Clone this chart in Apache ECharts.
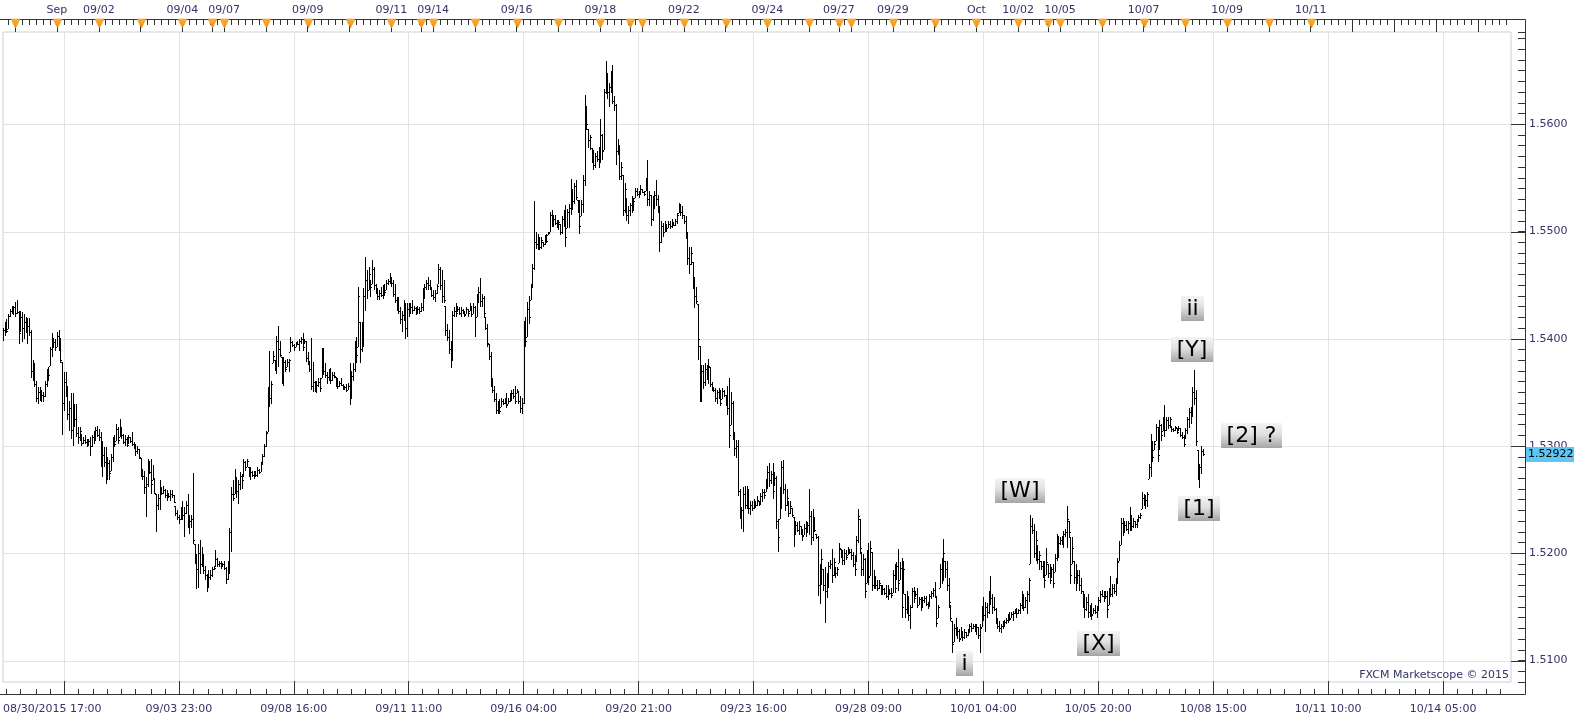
<!DOCTYPE html>
<html><head><meta charset="utf-8">
<script src="https://cdn.jsdelivr.net/npm/echarts@6/dist/echarts.min.js"></script>
<style>html,body{margin:0;padding:0;background:#fff}#c{width:1583px;height:720px}</style>
</head><body><div id="c"></div>
<script>
// ---- hourly OHLC, 08/30/2015 17:00 -> 10/08/2015 10:00 ----
const open = [
1.5400,1.5408,1.5414,1.5409,1.5421,1.5426,1.5425,1.5430,1.5424,1.5425,
1.5406,1.5420,1.5410,1.5416,1.5408,1.5412,1.5406,1.5370,1.5372,1.5358,
1.5345,1.5350,1.5345,1.5348,1.5347,1.5358,1.5369,1.5375,1.5390,1.5395,
1.5397,1.5392,1.5403,1.5395,1.5378,1.5340,1.5360,1.5350,1.5330,1.5335,
1.5315,1.5330,1.5325,1.5312,1.5308,1.5311,1.5303,1.5306,1.5304,1.5302,
1.5305,1.5300,1.5308,1.5311,1.5315,1.5310,1.5308,1.5285,1.5292,1.5285,
1.5270,1.5284,1.5277,1.5290,1.5304,1.5305,1.5316,1.5308,1.5318,1.5310,
1.5304,1.5307,1.5302,1.5308,1.5305,1.5302,1.5299,1.5295,1.5297,1.5289,
1.5275,1.5272,1.5262,1.5265,1.5282,1.5276,1.5268,1.5269,1.5255,1.5245,
1.5252,1.5260,1.5256,1.5259,1.5254,1.5255,1.5253,1.5255,1.5254,1.5244,
1.5238,1.5234,1.5232,1.5240,1.5236,1.5238,1.5245,1.5228,1.5230,1.5232,
1.5209,1.5195,1.5185,1.5200,1.5190,1.5198,1.5184,1.5180,1.5170,1.5178,
1.5180,1.5185,1.5187,1.5195,1.5190,1.5191,1.5188,1.5190,1.5186,1.5176,
1.5185,1.5220,1.5255,1.5255,1.5270,1.5258,1.5265,1.5272,1.5271,1.5285,
1.5280,1.5280,1.5274,1.5276,1.5273,1.5275,1.5273,1.5278,1.5276,1.5283,
1.5291,1.5300,1.5313,1.5350,1.5345,1.5377,1.5380,1.5374,1.5398,1.5390,
1.5383,1.5362,1.5378,1.5374,1.5378,1.5388,1.5397,1.5394,1.5392,1.5396,
1.5395,1.5398,1.5400,1.5395,1.5398,1.5382,1.5378,1.5372,1.5356,1.5360,
1.5352,1.5357,1.5360,1.5363,1.5385,1.5370,1.5366,1.5364,1.5368,1.5362,
1.5366,1.5364,1.5358,1.5356,1.5359,1.5357,1.5354,1.5355,1.5352,1.5356,
1.5345,1.5365,1.5372,1.5394,1.5392,1.5416,1.5390,1.5410,1.5440,1.5455,
1.5445,1.5455,1.5451,1.5465,1.5450,1.5444,1.5440,1.5443,1.5441,1.5446,
1.5445,1.5452,1.5454,1.5458,1.5452,1.5442,1.5436,1.5430,1.5426,1.5418,
1.5422,1.5430,1.5410,1.5428,1.5425,1.5430,1.5427,1.5429,1.5425,1.5428,
1.5426,1.5430,1.5444,1.5448,1.5452,1.5450,1.5447,1.5441,1.5439,1.5443,
1.5451,1.5465,1.5450,1.5440,1.5431,1.5408,1.5402,1.5390,1.5380,1.5422,
1.5426,1.5425,1.5428,1.5424,1.5427,1.5425,1.5423,1.5428,1.5426,1.5430,
1.5423,1.5430,1.5420,1.5438,1.5444,1.5435,1.5438,1.5420,1.5410,1.5395,
1.5384,1.5360,1.5352,1.5344,1.5334,1.5338,1.5336,1.5342,1.5340,1.5343,
1.5339,1.5342,1.5346,1.5349,1.5347,1.5349,1.5350,1.5342,1.5335,1.5340,
1.5410,1.5402,1.5428,1.5436,1.5448,1.5466,1.5490,1.5488,1.5494,1.5486,
1.5490,1.5488,1.5495,1.5497,1.5500,1.5515,1.5508,1.5512,1.5508,1.5506,
1.5507,1.5500,1.5512,1.5516,1.5503,1.5518,1.5522,1.5539,1.5528,1.5542,
1.5529,1.5520,1.5514,1.5526,1.5548,1.5610,1.5596,1.5585,1.5578,1.5570,
1.5562,1.5570,1.5568,1.5575,1.5590,1.5576,1.5630,1.5640,1.5630,1.5635,
1.5645,1.5622,1.5618,1.5575,1.5580,1.5552,1.5553,1.5520,1.5531,1.5515,
1.5520,1.5525,1.5522,1.5531,1.5538,1.5535,1.5536,1.5540,1.5537,1.5538,
1.5548,1.5530,1.5534,1.5512,1.5528,1.5534,1.5530,1.5520,1.5490,1.5505,
1.5500,1.5506,1.5503,1.5507,1.5505,1.5508,1.5506,1.5510,1.5517,1.5524,
1.5518,1.5515,1.5510,1.5498,1.5475,1.5470,1.5472,1.5455,1.5440,1.5432,
1.5393,1.5350,1.5370,1.5360,1.5372,1.5366,1.5374,1.5358,1.5354,1.5352,
1.5345,1.5350,1.5347,1.5344,1.5351,1.5348,1.5341,1.5335,1.5320,1.5340,
1.5310,1.5298,1.5300,1.5258,1.5236,1.5240,1.5255,1.5245,1.5258,1.5242,
1.5245,1.5242,1.5248,1.5245,1.5249,1.5246,1.5253,1.5257,1.5257,1.5266,
1.5276,1.5268,1.5274,1.5263,1.5270,1.5230,1.5232,1.5255,1.5280,1.5260,
1.5245,1.5249,1.5238,1.5242,1.5234,1.5222,1.5226,1.5222,1.5225,1.5220,
1.5217,1.5224,1.5220,1.5226,1.5235,1.5215,1.5230,1.5218,1.5215,1.5170,
1.5180,1.5185,1.5170,1.5165,1.5175,1.5188,1.5190,1.5180,1.5187,1.5182,
1.5191,1.5204,1.5200,1.5194,1.5200,1.5198,1.5204,1.5201,1.5198,1.5190,
1.5192,1.5212,1.5232,1.5201,1.5185,1.5195,1.5172,1.5198,1.5179,1.5201,
1.5170,1.5175,1.5170,1.5168,1.5170,1.5164,1.5167,1.5163,1.5160,1.5166,
1.5163,1.5163,1.5180,1.5175,1.5188,1.5175,1.5186,1.5162,1.5162,1.5148,
1.5159,1.5142,1.5150,1.5165,1.5159,1.5162,1.5152,1.5157,1.5150,1.5156,
1.5158,1.5153,1.5151,1.5160,1.5163,1.5166,1.5159,1.5140,1.5168,1.5185,
1.5178,1.5193,1.5185,1.5170,1.5152,1.5137,1.5117,1.5130,1.5126,1.5128,
1.5121,1.5127,1.5122,1.5127,1.5124,1.5127,1.5132,1.5130,1.5132,1.5129,
1.5131,1.5124,1.5131,1.5148,1.5142,1.5150,1.5145,1.5160,1.5158,1.5150,
1.5148,1.5138,1.5132,1.5130,1.5132,1.5134,1.5136,1.5138,1.5141,1.5140,
1.5143,1.5144,1.5146,1.5144,1.5147,1.5152,1.5160,1.5150,1.5156,1.5162,
1.5190,1.5225,1.5222,1.5200,1.5208,1.5195,1.5193,1.5188,1.5185,1.5180,
1.5190,1.5182,1.5177,1.5185,1.5183,1.5196,1.5212,1.5210,1.5212,1.5214,
1.5218,1.5220,1.5230,1.5215,1.5190,1.5193,1.5178,1.5172,1.5180,1.5170,
1.5165,1.5152,1.5148,1.5155,1.5145,1.5148,1.5143,1.5147,1.5145,1.5148,
1.5156,1.5162,1.5160,1.5163,1.5160,1.5152,1.5165,1.5162,1.5168,1.5165,
1.5175,1.5193,1.5208,1.5228,1.5220,1.5226,1.5223,1.5228,1.5235,1.5225,
1.5230,1.5227,1.5230,1.5234,1.5241,1.5252,1.5248,1.5250,1.5269,1.5280,
1.5300,1.5296,1.5305,1.5318,1.5296,1.5320,1.5314,1.5322,1.5315,1.5324,
1.5320,1.5319,1.5316,1.5315,1.5317,1.5314,1.5317,1.5310,1.5308,1.5307,
1.5315,1.5325,1.5332,1.5328,1.5350,1.5345,1.5296,1.5275,1.5280,1.5295];
const high = [
1.5410,1.5416,1.5418,1.5423,1.5428,1.5431,1.5431,1.5434,1.5436,1.5426,
1.5426,1.5425,1.5423,1.5420,1.5419,1.5419,1.5408,1.5380,1.5377,1.5361,
1.5355,1.5355,1.5352,1.5350,1.5361,1.5372,1.5374,1.5392,1.5405,1.5401,
1.5400,1.5406,1.5408,1.5401,1.5378,1.5369,1.5369,1.5356,1.5342,1.5349,
1.5349,1.5339,1.5339,1.5318,1.5318,1.5311,1.5308,1.5310,1.5307,1.5307,
1.5308,1.5310,1.5314,1.5318,1.5319,1.5316,1.5313,1.5305,1.5299,1.5299,
1.5290,1.5287,1.5293,1.5308,1.5310,1.5321,1.5318,1.5325,1.5318,1.5311,
1.5310,1.5308,1.5310,1.5308,1.5313,1.5304,1.5302,1.5300,1.5297,1.5289,
1.5279,1.5277,1.5271,1.5288,1.5286,1.5288,1.5282,1.5269,1.5255,1.5255,
1.5268,1.5262,1.5263,1.5260,1.5259,1.5255,1.5259,1.5259,1.5254,1.5244,
1.5240,1.5236,1.5243,1.5249,1.5243,1.5249,1.5255,1.5236,1.5236,1.5275,
1.5209,1.5199,1.5209,1.5212,1.5206,1.5199,1.5188,1.5181,1.5184,1.5184,
1.5187,1.5188,1.5203,1.5196,1.5193,1.5193,1.5191,1.5193,1.5187,1.5193,
1.5224,1.5262,1.5268,1.5279,1.5271,1.5268,1.5276,1.5274,1.5288,1.5286,
1.5288,1.5280,1.5280,1.5277,1.5277,1.5277,1.5280,1.5279,1.5285,1.5293,
1.5302,1.5314,1.5355,1.5389,1.5361,1.5389,1.5380,1.5403,1.5412,1.5398,
1.5383,1.5383,1.5380,1.5381,1.5381,1.5402,1.5398,1.5395,1.5397,1.5398,
1.5400,1.5402,1.5405,1.5400,1.5398,1.5388,1.5378,1.5401,1.5378,1.5361,
1.5361,1.5363,1.5363,1.5391,1.5391,1.5377,1.5369,1.5372,1.5373,1.5369,
1.5369,1.5364,1.5363,1.5361,1.5363,1.5358,1.5356,1.5358,1.5359,1.5377,
1.5370,1.5377,1.5398,1.5402,1.5448,1.5416,1.5416,1.5447,1.5476,1.5464,
1.5467,1.5455,1.5473,1.5467,1.5451,1.5447,1.5445,1.5448,1.5450,1.5451,
1.5455,1.5456,1.5461,1.5458,1.5455,1.5451,1.5439,1.5439,1.5430,1.5426,
1.5436,1.5433,1.5433,1.5433,1.5433,1.5436,1.5431,1.5430,1.5431,1.5430,
1.5433,1.5447,1.5451,1.5455,1.5458,1.5455,1.5448,1.5445,1.5445,1.5451,
1.5470,1.5467,1.5464,1.5455,1.5431,1.5414,1.5408,1.5398,1.5426,1.5430,
1.5433,1.5431,1.5430,1.5430,1.5428,1.5426,1.5430,1.5428,1.5433,1.5430,
1.5433,1.5431,1.5442,1.5448,1.5457,1.5442,1.5440,1.5420,1.5414,1.5395,
1.5388,1.5363,1.5356,1.5349,1.5342,1.5344,1.5345,1.5344,1.5345,1.5349,
1.5345,1.5349,1.5352,1.5353,1.5356,1.5353,1.5350,1.5347,1.5345,1.5417,
1.5420,1.5434,1.5440,1.5451,1.5470,1.5528,1.5500,1.5498,1.5495,1.5495,
1.5490,1.5497,1.5498,1.5500,1.5518,1.5520,1.5515,1.5515,1.5511,1.5511,
1.5507,1.5514,1.5520,1.5525,1.5521,1.5526,1.5549,1.5539,1.5545,1.5548,
1.5529,1.5529,1.5529,1.5553,1.5627,1.5617,1.5596,1.5590,1.5578,1.5576,
1.5573,1.5575,1.5579,1.5605,1.5591,1.5633,1.5659,1.5648,1.5638,1.5650,
1.5655,1.5626,1.5619,1.5586,1.5581,1.5565,1.5553,1.5545,1.5531,1.5524,
1.5527,1.5533,1.5531,1.5541,1.5541,1.5538,1.5543,1.5540,1.5538,1.5550,
1.5567,1.5538,1.5534,1.5533,1.5538,1.5548,1.5534,1.5524,1.5510,1.5508,
1.5510,1.5507,1.5510,1.5510,1.5512,1.5508,1.5512,1.5517,1.5527,1.5526,
1.5524,1.5515,1.5514,1.5500,1.5486,1.5486,1.5472,1.5458,1.5448,1.5432,
1.5393,1.5376,1.5376,1.5377,1.5376,1.5381,1.5374,1.5360,1.5355,1.5354,
1.5352,1.5354,1.5352,1.5354,1.5352,1.5348,1.5356,1.5363,1.5350,1.5342,
1.5313,1.5306,1.5306,1.5260,1.5243,1.5262,1.5263,1.5263,1.5260,1.5249,
1.5249,1.5251,1.5249,1.5253,1.5249,1.5256,1.5260,1.5260,1.5269,1.5281,
1.5284,1.5277,1.5284,1.5276,1.5272,1.5232,1.5262,1.5286,1.5287,1.5265,
1.5260,1.5249,1.5249,1.5242,1.5234,1.5230,1.5229,1.5230,1.5225,1.5223,
1.5227,1.5230,1.5229,1.5260,1.5239,1.5241,1.5234,1.5218,1.5216,1.5190,
1.5204,1.5185,1.5187,1.5182,1.5192,1.5194,1.5204,1.5196,1.5187,1.5187,
1.5210,1.5204,1.5203,1.5204,1.5203,1.5206,1.5204,1.5204,1.5201,1.5198,
1.5216,1.5241,1.5232,1.5201,1.5199,1.5196,1.5203,1.5210,1.5211,1.5201,
1.5184,1.5179,1.5175,1.5175,1.5170,1.5170,1.5168,1.5170,1.5170,1.5167,
1.5168,1.5184,1.5190,1.5192,1.5204,1.5192,1.5196,1.5193,1.5162,1.5165,
1.5159,1.5152,1.5168,1.5169,1.5165,1.5168,1.5159,1.5159,1.5159,1.5160,
1.5160,1.5155,1.5162,1.5165,1.5168,1.5173,1.5159,1.5152,1.5190,1.5196,
1.5213,1.5193,1.5193,1.5177,1.5152,1.5137,1.5134,1.5140,1.5131,1.5129,
1.5131,1.5127,1.5129,1.5127,1.5129,1.5134,1.5135,1.5134,1.5134,1.5134,
1.5131,1.5134,1.5151,1.5159,1.5155,1.5154,1.5165,1.5179,1.5162,1.5159,
1.5149,1.5140,1.5137,1.5134,1.5137,1.5138,1.5140,1.5143,1.5145,1.5145,
1.5146,1.5148,1.5149,1.5148,1.5154,1.5165,1.5162,1.5159,1.5165,1.5177,
1.5236,1.5233,1.5227,1.5221,1.5208,1.5202,1.5193,1.5193,1.5193,1.5205,
1.5190,1.5190,1.5187,1.5190,1.5199,1.5218,1.5216,1.5215,1.5216,1.5221,
1.5223,1.5244,1.5230,1.5215,1.5215,1.5193,1.5190,1.5184,1.5184,1.5177,
1.5165,1.5162,1.5159,1.5162,1.5152,1.5154,1.5149,1.5152,1.5151,1.5159,
1.5165,1.5166,1.5165,1.5165,1.5165,1.5168,1.5179,1.5171,1.5171,1.5177,
1.5196,1.5211,1.5233,1.5233,1.5230,1.5230,1.5230,1.5243,1.5236,1.5233,
1.5230,1.5232,1.5236,1.5238,1.5257,1.5255,1.5254,1.5257,1.5283,1.5311,
1.5305,1.5305,1.5321,1.5318,1.5324,1.5321,1.5327,1.5338,1.5327,1.5327,
1.5327,1.5319,1.5317,1.5319,1.5317,1.5319,1.5317,1.5313,1.5310,1.5317,
1.5327,1.5335,1.5336,1.5355,1.5371,1.5352,1.5296,1.5283,1.5300,1.5297];
const low = [
1.5398,1.5403,1.5405,1.5409,1.5420,1.5423,1.5422,1.5420,1.5423,1.5395,
1.5406,1.5397,1.5400,1.5405,1.5395,1.5403,1.5363,1.5361,1.5355,1.5341,
1.5339,1.5342,1.5341,1.5341,1.5346,1.5355,1.5361,1.5375,1.5383,1.5391,
1.5389,1.5392,1.5389,1.5377,1.5310,1.5333,1.5346,1.5324,1.5314,1.5307,
1.5300,1.5318,1.5308,1.5302,1.5305,1.5300,1.5302,1.5302,1.5299,1.5300,
1.5291,1.5299,1.5302,1.5305,1.5308,1.5305,1.5280,1.5271,1.5280,1.5265,
1.5268,1.5268,1.5277,1.5285,1.5299,1.5305,1.5302,1.5308,1.5307,1.5302,
1.5300,1.5299,1.5302,1.5303,1.5300,1.5297,1.5291,1.5293,1.5288,1.5271,
1.5268,1.5255,1.5234,1.5262,1.5274,1.5255,1.5268,1.5255,1.5220,1.5240,
1.5240,1.5254,1.5255,1.5252,1.5249,1.5252,1.5249,1.5252,1.5247,1.5235,
1.5231,1.5227,1.5231,1.5231,1.5215,1.5237,1.5224,1.5218,1.5224,1.5209,
1.5190,1.5167,1.5168,1.5181,1.5187,1.5181,1.5175,1.5164,1.5168,1.5175,
1.5178,1.5184,1.5187,1.5187,1.5187,1.5185,1.5187,1.5184,1.5171,1.5175,
1.5181,1.5201,1.5249,1.5255,1.5252,1.5246,1.5259,1.5260,1.5271,1.5277,
1.5280,1.5271,1.5268,1.5271,1.5269,1.5271,1.5271,1.5274,1.5276,1.5282,
1.5290,1.5299,1.5313,1.5336,1.5339,1.5377,1.5370,1.5367,1.5374,1.5383,
1.5358,1.5356,1.5369,1.5374,1.5369,1.5388,1.5392,1.5389,1.5392,1.5394,
1.5389,1.5395,1.5389,1.5395,1.5378,1.5376,1.5369,1.5352,1.5350,1.5350,
1.5349,1.5355,1.5350,1.5363,1.5366,1.5363,1.5358,1.5361,1.5358,1.5361,
1.5363,1.5355,1.5353,1.5355,1.5356,1.5352,1.5352,1.5350,1.5352,1.5338,
1.5344,1.5361,1.5369,1.5377,1.5392,1.5377,1.5388,1.5392,1.5426,1.5437,
1.5445,1.5439,1.5451,1.5445,1.5442,1.5436,1.5436,1.5439,1.5437,1.5440,
1.5445,1.5450,1.5451,1.5448,1.5439,1.5433,1.5426,1.5423,1.5414,1.5406,
1.5417,1.5400,1.5402,1.5420,1.5423,1.5423,1.5426,1.5422,1.5423,1.5423,
1.5425,1.5426,1.5437,1.5445,1.5445,1.5445,1.5439,1.5436,1.5434,1.5442,
1.5451,1.5445,1.5433,1.5433,1.5403,1.5398,1.5386,1.5373,1.5380,1.5420,
1.5420,1.5425,1.5422,1.5420,1.5423,1.5420,1.5423,1.5420,1.5426,1.5420,
1.5423,1.5402,1.5420,1.5433,1.5430,1.5430,1.5420,1.5408,1.5392,1.5380,
1.5355,1.5349,1.5341,1.5330,1.5330,1.5330,1.5336,1.5338,1.5339,1.5335,
1.5339,1.5341,1.5342,1.5344,1.5339,1.5349,1.5339,1.5331,1.5330,1.5339,
1.5392,1.5402,1.5414,1.5436,1.5447,1.5464,1.5484,1.5483,1.5483,1.5484,
1.5486,1.5487,1.5489,1.5497,1.5500,1.5504,1.5504,1.5506,1.5503,1.5501,
1.5497,1.5498,1.5504,1.5486,1.5503,1.5503,1.5515,1.5520,1.5526,1.5529,
1.5517,1.5498,1.5514,1.5517,1.5542,1.5595,1.5578,1.5576,1.5564,1.5557,
1.5559,1.5565,1.5559,1.5564,1.5567,1.5576,1.5628,1.5624,1.5616,1.5629,
1.5619,1.5612,1.5562,1.5571,1.5548,1.5548,1.5514,1.5517,1.5510,1.5507,
1.5514,1.5517,1.5519,1.5531,1.5533,1.5531,1.5534,1.5536,1.5533,1.5538,
1.5524,1.5524,1.5505,1.5510,1.5521,1.5524,1.5517,1.5481,1.5489,1.5495,
1.5500,1.5500,1.5503,1.5502,1.5503,1.5505,1.5505,1.5507,1.5517,1.5514,
1.5512,1.5507,1.5493,1.5469,1.5460,1.5469,1.5446,1.5429,1.5432,1.5380,
1.5341,1.5341,1.5353,1.5356,1.5362,1.5358,1.5355,1.5351,1.5350,1.5341,
1.5339,1.5344,1.5337,1.5344,1.5346,1.5337,1.5329,1.5298,1.5320,1.5306,
1.5291,1.5289,1.5253,1.5232,1.5223,1.5220,1.5241,1.5241,1.5237,1.5236,
1.5239,1.5241,1.5242,1.5244,1.5244,1.5246,1.5248,1.5251,1.5257,1.5260,
1.5262,1.5265,1.5251,1.5263,1.5223,1.5201,1.5232,1.5241,1.5255,1.5239,
1.5244,1.5234,1.5237,1.5234,1.5206,1.5217,1.5220,1.5217,1.5217,1.5211,
1.5217,1.5215,1.5220,1.5217,1.5208,1.5211,1.5220,1.5213,1.5160,1.5153,
1.5170,1.5165,1.5135,1.5158,1.5168,1.5185,1.5172,1.5179,1.5177,1.5179,
1.5191,1.5196,1.5189,1.5189,1.5194,1.5198,1.5199,1.5194,1.5187,1.5179,
1.5192,1.5210,1.5199,1.5179,1.5179,1.5158,1.5172,1.5170,1.5179,1.5165,
1.5167,1.5167,1.5165,1.5167,1.5161,1.5161,1.5161,1.5158,1.5156,1.5161,
1.5158,1.5163,1.5163,1.5175,1.5165,1.5175,1.5140,1.5162,1.5140,1.5143,
1.5137,1.5129,1.5149,1.5154,1.5159,1.5149,1.5152,1.5146,1.5149,1.5154,
1.5151,1.5148,1.5151,1.5157,1.5159,1.5159,1.5131,1.5140,1.5168,1.5171,
1.5174,1.5177,1.5165,1.5149,1.5137,1.5107,1.5117,1.5123,1.5120,1.5117,
1.5121,1.5118,1.5120,1.5121,1.5123,1.5126,1.5127,1.5129,1.5127,1.5124,
1.5120,1.5107,1.5131,1.5137,1.5127,1.5140,1.5143,1.5152,1.5143,1.5146,
1.5134,1.5129,1.5127,1.5126,1.5129,1.5131,1.5134,1.5135,1.5137,1.5140,
1.5137,1.5143,1.5140,1.5143,1.5143,1.5148,1.5146,1.5149,1.5143,1.5155,
1.5190,1.5218,1.5196,1.5193,1.5190,1.5184,1.5184,1.5177,1.5168,1.5180,
1.5177,1.5171,1.5177,1.5168,1.5183,1.5193,1.5196,1.5208,1.5208,1.5205,
1.5215,1.5205,1.5215,1.5171,1.5190,1.5171,1.5165,1.5171,1.5165,1.5162,
1.5149,1.5140,1.5146,1.5140,1.5141,1.5138,1.5143,1.5143,1.5140,1.5146,
1.5154,1.5159,1.5155,1.5157,1.5140,1.5152,1.5159,1.5159,1.5162,1.5160,
1.5171,1.5193,1.5208,1.5216,1.5219,1.5221,1.5218,1.5221,1.5221,1.5224,
1.5224,1.5224,1.5229,1.5232,1.5241,1.5244,1.5241,1.5243,1.5269,1.5271,
1.5285,1.5296,1.5305,1.5285,1.5296,1.5305,1.5314,1.5308,1.5314,1.5316,
1.5317,1.5313,1.5313,1.5314,1.5311,1.5314,1.5308,1.5307,1.5299,1.5307,
1.5311,1.5317,1.5321,1.5327,1.5338,1.5300,1.5268,1.5261,1.5274,1.5291];
const close = [
1.5408,1.5414,1.5407,1.5421,1.5426,1.5425,1.5430,1.5424,1.5425,1.5405,
1.5420,1.5410,1.5416,1.5408,1.5412,1.5406,1.5370,1.5372,1.5358,1.5345,
1.5350,1.5345,1.5348,1.5347,1.5358,1.5369,1.5366,1.5390,1.5395,1.5397,
1.5392,1.5403,1.5395,1.5380,1.5340,1.5360,1.5350,1.5330,1.5335,1.5315,
1.5330,1.5325,1.5312,1.5308,1.5314,1.5303,1.5306,1.5304,1.5302,1.5305,
1.5300,1.5308,1.5311,1.5315,1.5310,1.5308,1.5285,1.5292,1.5285,1.5270,
1.5284,1.5275,1.5290,1.5304,1.5302,1.5316,1.5306,1.5318,1.5310,1.5304,
1.5307,1.5301,1.5308,1.5305,1.5302,1.5299,1.5295,1.5297,1.5290,1.5275,
1.5272,1.5262,1.5265,1.5282,1.5276,1.5265,1.5270,1.5256,1.5245,1.5252,
1.5260,1.5256,1.5259,1.5254,1.5256,1.5253,1.5255,1.5254,1.5248,1.5238,
1.5234,1.5232,1.5240,1.5236,1.5238,1.5245,1.5228,1.5230,1.5232,1.5212,
1.5195,1.5185,1.5200,1.5190,1.5198,1.5184,1.5180,1.5170,1.5178,1.5180,
1.5185,1.5186,1.5195,1.5190,1.5191,1.5188,1.5190,1.5186,1.5176,1.5185,
1.5220,1.5255,1.5252,1.5270,1.5258,1.5265,1.5272,1.5268,1.5285,1.5280,
1.5286,1.5274,1.5276,1.5273,1.5275,1.5273,1.5278,1.5276,1.5283,1.5291,
1.5300,1.5312,1.5350,1.5345,1.5358,1.5384,1.5374,1.5398,1.5390,1.5385,
1.5362,1.5378,1.5372,1.5378,1.5380,1.5397,1.5394,1.5392,1.5396,1.5395,
1.5398,1.5400,1.5392,1.5398,1.5382,1.5379,1.5372,1.5356,1.5360,1.5352,
1.5357,1.5360,1.5354,1.5385,1.5370,1.5366,1.5364,1.5368,1.5362,1.5366,
1.5365,1.5358,1.5356,1.5359,1.5357,1.5354,1.5355,1.5352,1.5356,1.5345,
1.5365,1.5372,1.5394,1.5385,1.5440,1.5390,1.5410,1.5440,1.5455,1.5445,
1.5460,1.5448,1.5465,1.5450,1.5444,1.5440,1.5443,1.5441,1.5446,1.5444,
1.5452,1.5454,1.5458,1.5452,1.5442,1.5436,1.5430,1.5426,1.5418,1.5422,
1.5430,1.5410,1.5428,1.5425,1.5430,1.5427,1.5429,1.5425,1.5428,1.5426,
1.5430,1.5444,1.5448,1.5452,1.5450,1.5447,1.5441,1.5439,1.5443,1.5449,
1.5465,1.5450,1.5440,1.5436,1.5408,1.5402,1.5390,1.5380,1.5422,1.5426,
1.5424,1.5428,1.5424,1.5427,1.5425,1.5422,1.5428,1.5424,1.5431,1.5423,
1.5430,1.5420,1.5438,1.5444,1.5435,1.5438,1.5424,1.5410,1.5396,1.5384,
1.5360,1.5352,1.5344,1.5334,1.5338,1.5333,1.5342,1.5340,1.5343,1.5338,
1.5342,1.5346,1.5349,1.5347,1.5342,1.5351,1.5342,1.5335,1.5340,1.5410,
1.5398,1.5428,1.5420,1.5448,1.5466,1.5490,1.5488,1.5494,1.5486,1.5492,
1.5488,1.5495,1.5491,1.5499,1.5515,1.5508,1.5512,1.5508,1.5506,1.5509,
1.5500,1.5512,1.5516,1.5495,1.5518,1.5522,1.5540,1.5528,1.5542,1.5532,
1.5520,1.5505,1.5526,1.5548,1.5610,1.5600,1.5585,1.5588,1.5570,1.5562,
1.5570,1.5568,1.5575,1.5590,1.5575,1.5630,1.5640,1.5630,1.5635,1.5645,
1.5622,1.5618,1.5575,1.5580,1.5552,1.5560,1.5520,1.5540,1.5515,1.5520,
1.5525,1.5522,1.5528,1.5538,1.5535,1.5536,1.5540,1.5537,1.5535,1.5548,
1.5530,1.5534,1.5512,1.5528,1.5534,1.5530,1.5520,1.5490,1.5505,1.5500,
1.5506,1.5503,1.5507,1.5505,1.5509,1.5506,1.5510,1.5515,1.5524,1.5518,
1.5515,1.5510,1.5498,1.5475,1.5470,1.5480,1.5455,1.5440,1.5435,1.5400,
1.5350,1.5370,1.5360,1.5372,1.5366,1.5375,1.5358,1.5354,1.5352,1.5345,
1.5350,1.5347,1.5340,1.5351,1.5348,1.5341,1.5335,1.5310,1.5340,1.5310,
1.5298,1.5300,1.5258,1.5236,1.5240,1.5255,1.5245,1.5258,1.5242,1.5245,
1.5242,1.5248,1.5245,1.5250,1.5246,1.5253,1.5257,1.5254,1.5266,1.5276,
1.5268,1.5274,1.5258,1.5270,1.5230,1.5215,1.5255,1.5280,1.5260,1.5245,
1.5252,1.5238,1.5244,1.5236,1.5222,1.5226,1.5222,1.5225,1.5220,1.5216,
1.5224,1.5220,1.5226,1.5235,1.5215,1.5230,1.5222,1.5215,1.5170,1.5180,
1.5195,1.5170,1.5165,1.5175,1.5188,1.5190,1.5180,1.5192,1.5182,1.5185,
1.5205,1.5200,1.5194,1.5200,1.5197,1.5204,1.5201,1.5198,1.5190,1.5185,
1.5212,1.5235,1.5205,1.5185,1.5195,1.5165,1.5198,1.5178,1.5205,1.5170,
1.5175,1.5170,1.5168,1.5172,1.5164,1.5167,1.5163,1.5160,1.5166,1.5163,
1.5161,1.5180,1.5168,1.5188,1.5172,1.5186,1.5150,1.5185,1.5148,1.5160,
1.5142,1.5150,1.5165,1.5158,1.5162,1.5152,1.5157,1.5150,1.5156,1.5158,
1.5153,1.5151,1.5160,1.5163,1.5166,1.5160,1.5135,1.5150,1.5185,1.5178,
1.5200,1.5185,1.5170,1.5155,1.5140,1.5115,1.5130,1.5126,1.5128,1.5120,
1.5128,1.5122,1.5127,1.5124,1.5127,1.5132,1.5130,1.5132,1.5129,1.5131,
1.5124,1.5130,1.5148,1.5142,1.5150,1.5145,1.5160,1.5158,1.5150,1.5148,
1.5138,1.5132,1.5130,1.5132,1.5134,1.5136,1.5138,1.5141,1.5139,1.5143,
1.5144,1.5146,1.5144,1.5147,1.5152,1.5160,1.5150,1.5156,1.5162,1.5175,
1.5225,1.5222,1.5200,1.5212,1.5195,1.5198,1.5188,1.5185,1.5175,1.5192,
1.5182,1.5175,1.5185,1.5172,1.5196,1.5212,1.5210,1.5212,1.5214,1.5218,
1.5220,1.5232,1.5220,1.5180,1.5205,1.5178,1.5172,1.5180,1.5170,1.5165,
1.5152,1.5148,1.5155,1.5145,1.5148,1.5142,1.5147,1.5145,1.5148,1.5156,
1.5162,1.5160,1.5163,1.5160,1.5148,1.5165,1.5162,1.5168,1.5165,1.5175,
1.5192,1.5208,1.5228,1.5220,1.5226,1.5223,1.5228,1.5235,1.5225,1.5230,
1.5227,1.5230,1.5234,1.5236,1.5252,1.5248,1.5250,1.5255,1.5280,1.5300,
1.5290,1.5302,1.5318,1.5292,1.5320,1.5310,1.5322,1.5315,1.5324,1.5320,
1.5325,1.5316,1.5315,1.5318,1.5313,1.5317,1.5310,1.5308,1.5302,1.5315,
1.5325,1.5332,1.5328,1.5350,1.5345,1.5305,1.5275,1.5280,1.5295,1.52922];

// ---- axes / ticks ----
const SLOT_COUNT = 867;                 // hourly slots across the axis (incl. empty future)
const bottomLabelTexts = ['08/30/2015 17:00','09/03 23:00','09/08 16:00','09/11 11:00','09/16 04:00','09/20 21:00','09/23 16:00','09/28 09:00','10/01 04:00','10/05 20:00','10/08 15:00','10/11 10:00','10/14 05:00'];
const bottomLabelSlots = [0,101,167,233,299,365,431,497,563,629,695,761,827];
const topLabelTexts = ['Sep','09/02','09/04','09/07','09/09','09/11','09/14','09/16','09/18','09/22','09/24','09/27','09/29','Oct','10/02','10/05','10/07','10/09','10/11'];
const topLabelSlots = [31,55,103,127,175,223,247,295,343,391,439,480,511,559,583,607,655,703,751];
const dayStartSlots = [7,31,55,79,103,120,127,151,175,199,223,240,247,271,295,319,343,360,367,391,415,439,463,480,487,511,535,559,583,600,607,631,655,679,703,727,751];
const futureDaySlots = [775,799,823,847];
const priceTicks = [1.51,1.52,1.53,1.54,1.55,1.56];
const waveLabels = ['ii','[Y]','[2] ?','[1]','[W]','[X]','i'];
const waveSlots  = [683,683,717,687,584,629,552];
const wavePrices = [1.5428,1.5390,1.5310,1.5242,1.5259,1.5116,1.5097];

const FONT = '"DejaVu Sans", Verdana, sans-serif';
const TXT = '#333366';
const AX = '#333333';

const emptyCats = Array.from({length: SLOT_COUNT}, () => '');
const bottomCats = emptyCats.slice(); bottomLabelSlots.forEach((s,k) => bottomCats[s] = bottomLabelTexts[k]);
const topCats = emptyCats.slice(); topLabelSlots.forEach((s,k) => topCats[s] = topLabelTexts[k]);

const majorBottom = new Set(); for (let s = 35; s < SLOT_COUNT; s += 66) majorBottom.add(s);
const minorBottom = new Set();
for (let k = -4; k < 110; k++) { if (k % 8 === 0) continue; const s = Math.round(35 + 66 * k / 8); if (s >= 0 && s < SLOT_COUNT) minorBottom.add(s); }
const daySet = new Set(dayStartSlots.concat(futureDaySlots));
function hourOfSlot(i) { return i < 600 ? (17 + (i % 120)) % 24 : (17 + (i - 600)) % 24; }
const minorTop = new Set();
for (let i = 1; i < SLOT_COUNT; i++) { const h = hourOfSlot(i); if (h % 4 === 0 && h !== 0 && !daySet.has(i)) minorTop.add(i); }

const barData = open.map((o, i) => [i, o, high[i], low[i], close[i]]);
const lastPrice = close[close.length - 1];

const measureCtx = document.createElement('canvas').getContext('2d');
function textW(t, font) { measureCtx.font = font; return measureCtx.measureText(t).width; }

function catAxis(extra) {
  return Object.assign({
    type: 'category', boundaryGap: false, data: emptyCats,
    axisLine: {show: false}, splitLine: {show: false},
    axisLabel: {show: false}, axisPointer: {show: false}
  }, extra);
}

const chart = echarts.init(document.getElementById('c'), null, {renderer: 'canvas'});
chart.setOption({
  animation: false,
  backgroundColor: '#ffffff',
  grid: {left: 0, right: 72, top: 32, bottom: 38, show: true, borderColor: '#c8d0da', borderWidth: 1, backgroundColor: 'rgba(0,0,0,0)'},
  xAxis: [
    catAxis({data: bottomCats, position: 'bottom', offset: 12,
      axisTick: {show: true, inside: true, length: 13, interval: (i) => majorBottom.has(i), lineStyle: {color: AX}},
      axisLabel: {show: true, interval: (i, v) => v !== '', color: TXT, fontSize: 11, fontFamily: FONT, margin: 10, alignMinLabel: 'left'},
      splitLine: {show: true, interval: (i) => majorBottom.has(i), lineStyle: {color: '#e3e3e3', width: 1}}}),
    catAxis({position: 'bottom', offset: 12,
      axisTick: {show: true, inside: true, length: 5, interval: (i) => minorBottom.has(i), lineStyle: {color: AX}}}),
    catAxis({data: topCats, position: 'top', offset: 13,
      axisTick: {show: true, inside: true, length: 13, interval: (i) => daySet.has(i), lineStyle: {color: AX}},
      axisLabel: {show: true, interval: (i, v) => v !== '', color: TXT, fontSize: 11, fontFamily: FONT, margin: 3}}),
    catAxis({position: 'top', offset: 13,
      axisTick: {show: true, inside: true, length: 6, interval: (i) => minorTop.has(i), lineStyle: {color: AX}}})
  ],
  yAxis: [{
    type: 'value', position: 'right', offset: 14, min: 1.508, max: 1.5686, interval: 0.001, scale: true,
    axisLine: {show: false}, splitLine: {show: false},
    axisTick: {show: true, inside: true, length: 7, lineStyle: {color: AX}},
    axisLabel: {show: true, margin: 4, color: TXT, fontSize: 11, fontFamily: FONT,
      formatter: (v) => (Math.round(v * 1000) % 10 === 0 ? v.toFixed(4) : '')}
  }],
  series: [
    { // horizontal grid lines + long price ticks
      type: 'custom', silent: true, z: 1, clip: false,
      data: priceTicks.map(v => [0, v]), encode: {x: 0, y: 1},
      renderItem: (params, api) => {
        const cs = params.coordSys;
        const y = Math.round(api.coord([0, api.value(1)])[1]) + 0.5;
        return {type: 'group', children: [
          {type: 'line', shape: {x1: cs.x, y1: y, x2: cs.x + cs.width, y2: y}, style: {stroke: '#e3e3e3', lineWidth: 1}},
          {type: 'line', shape: {x1: cs.x + cs.width, y1: y, x2: cs.x + cs.width + 14, y2: y}, style: {stroke: AX, lineWidth: 1}}
        ]};
      }
    },
    { // OHLC bars
      type: 'custom', silent: true, z: 3, clip: true,
      data: barData, encode: {x: 0, y: [1, 2, 3, 4]},
      renderItem: (params, api) => {
        const i = api.value(0);
        const x = Math.round(api.coord([i, api.value(1)])[0]) + 0.5;
        const yO = Math.round(api.coord([i, api.value(1)])[1]) + 0.5;
        const yH = Math.round(api.coord([i, api.value(2)])[1]);
        const yL = Math.round(api.coord([i, api.value(3)])[1]);
        const yC = Math.round(api.coord([i, api.value(4)])[1]) + 0.5;
        const st = {stroke: '#000', lineWidth: 1};
        return {type: 'group', children: [
          {type: 'line', shape: {x1: x, y1: yH, x2: x, y2: Math.max(yL, yH + 1)}, style: st},
          {type: 'line', shape: {x1: x - 1.5, y1: yO, x2: x - 0.5, y2: yO}, style: st},
          {type: 'line', shape: {x1: x + 0.5, y1: yC, x2: x + 1.5, y2: yC}, style: st}
        ]};
      }
    },
    { // orange day markers on the top axis
      type: 'custom', silent: true, z: 10, clip: false,
      data: dayStartSlots.map(s => [s, 1.55]), encode: {x: 0, y: 1},
      renderItem: (params, api) => {
        const cs = params.coordSys;
        const x = Math.round(api.coord([api.value(0), api.value(1)])[0]) + 0.5;
        const yt = cs.y - 13;
        return {type: 'polygon', shape: {points: [[x - 4.5, yt], [x + 4.5, yt], [x, yt + 9]]},
          style: {fill: new echarts.graphic.LinearGradient(0, 0, 0, 1, [{offset: 0, color: '#fbb040'}, {offset: 1, color: '#f08c00'}]), stroke: '#e58a00', lineWidth: 0.5}};
      }
    },
    { // current price tag
      type: 'custom', silent: true, z: 12, clip: false,
      data: [[close.length - 1, lastPrice]], encode: {x: 0, y: 1},
      renderItem: (params, api) => {
        const cs = params.coordSys;
        const y = api.coord([api.value(0), api.value(1)])[1];
        const x0 = cs.x + cs.width + 15;
        return {type: 'group', children: [
          {type: 'rect', shape: {x: x0, y: Math.round(y - 7.5), width: 48, height: 15}, style: {fill: '#5cc6f5'}},
          {type: 'text', style: {text: lastPrice.toFixed(5), x: x0 + 2, y: Math.round(y) + 0.5, align: 'left', verticalAlign: 'middle', font: '11px ' + FONT, fill: '#000'}}
        ]};
      }
    },
    { // Elliott wave labels
      type: 'custom', silent: true, z: 15, clip: false,
      data: waveSlots.map((s, k) => [s, wavePrices[k], k]), encode: {x: 0, y: 1},
      renderItem: (params, api) => {
        const p = api.coord([api.value(0), api.value(1)]);
        const t = waveLabels[api.value(2)];
        const f = '22px ' + FONT;
        const w = Math.round(textW(t, f) + 11);
        const h = 25;
        const x0 = Math.round(p[0] - w / 2), y0 = Math.round(p[1] - h / 2);
        return {type: 'group', children: [
          {type: 'rect', shape: {x: x0, y: y0, width: w, height: h},
            style: {fill: new echarts.graphic.LinearGradient(0, 0, 0, 1, [{offset: 0, color: '#f4f4f4'}, {offset: 0.45, color: '#e0e0e0'}, {offset: 1, color: '#a4a4a4'}])}},
          {type: 'text', style: {text: t, x: x0 + w / 2, y: y0 + h / 2 + 1, align: 'center', verticalAlign: 'middle', font: f, fill: '#000'}}
        ]};
      }
    }
  ],
  graphic: [
    {type: 'polyline', silent: true, z: 5, shape: {points: [[0, 19.5], [1525.5, 19.5], [1525.5, 694.5], [0, 694.5]]}, style: {stroke: AX, fill: null, lineWidth: 1}},
    {type: 'text', silent: true, z: 5, x: 1509, y: 675, style: {text: 'FXCM Marketscope © 2015', align: 'right', verticalAlign: 'middle', font: '11px ' + FONT, fill: TXT}}
  ]
});
</script>
</body></html>
